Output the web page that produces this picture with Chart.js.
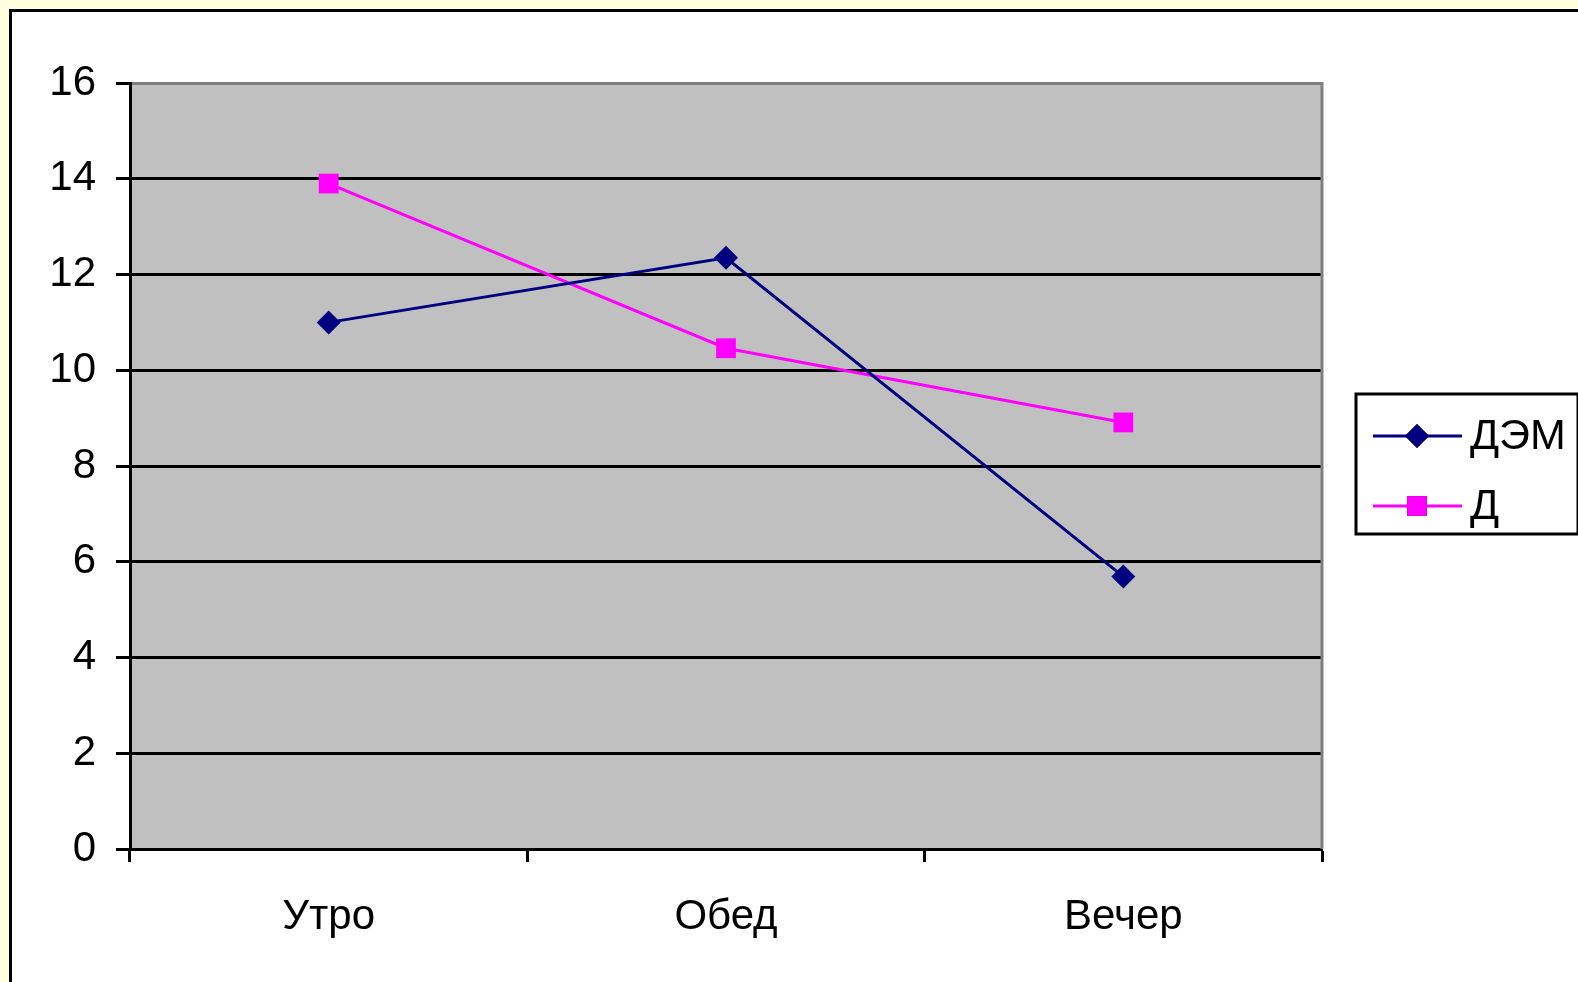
<!DOCTYPE html>
<html>
<head>
<meta charset="utf-8">
<script src="https://cdn.jsdelivr.net/npm/chart.js@4/dist/chart.umd.min.js"></script>
<style>
  html, body { margin: 0; padding: 0; background: #FFFFE0; overflow: hidden; }
  #frame {
    position: absolute; left: 9px; top: 9px;
    width: 1640px; height: 1040px;
    background: #fff; border: 3px solid #000;
  }
  #chart { position: absolute; left: 0; top: 0; }
</style>
</head>
<body>
<div id="frame"></div>
<canvas id="chart" width="1578" height="982"></canvas>
<script>
const categories = ['Утро', 'Обед', 'Вечер'];
const seriesNames = ['ДЭМ', 'Д'];
const demValues = [11.0, 12.35, 5.69];
const dValues = [13.9, 10.46, 8.91];
const yMin = 0;
const yMax = 16;
const yStep = 2;

const seriesColors = ['#000080', '#FF00FF'];
const seriesMarkers = ['rectRot', 'rect'];
const markerRadius = [12, 14];
const fontFamily = '"Liberation Sans", Arial, sans-serif';

const plotBackground = {
  id: 'plotBackground',
  beforeDraw(chart) {
    const { ctx, chartArea: a } = chart;
    ctx.save();
    ctx.fillStyle = '#C0C0C0';
    ctx.fillRect(a.left, a.top, a.right - a.left, a.bottom - a.top);
    ctx.restore();
  },
  beforeDatasetsDraw(chart) {
    const { ctx, chartArea: a } = chart;
    ctx.save();
    ctx.strokeStyle = '#808080';
    ctx.lineWidth = 3;
    ctx.beginPath();
    ctx.moveTo(a.right, a.top - 1);
    ctx.lineTo(a.right, a.bottom);
    ctx.stroke();
    ctx.restore();
  },
};

// legend box like the office chart: line with marker in the middle
const boxLegend = {
  id: 'boxLegend',
  afterDraw(chart) {
    const { ctx } = chart;
    ctx.save();
    ctx.strokeStyle = '#000';
    ctx.lineWidth = 3;
    ctx.strokeRect(1356, 394, 222, 140);
    chart.data.datasets.forEach((ds, i) => {
      const y = 436 + i * 70;
      ctx.strokeStyle = ds.borderColor;
      ctx.lineWidth = 3;
      ctx.beginPath();
      ctx.moveTo(1373, y);
      ctx.lineTo(1462, y);
      ctx.stroke();
      Chart.helpers.drawPoint(ctx, {
        pointStyle: ds.pointStyle,
        radius: ds.pointRadius,
        borderWidth: 0,
        rotation: 0,
      }, 1417, y);
      ctx.fillStyle = ds.backgroundColor;
      ctx.fill();
      ctx.fillStyle = '#000';
      ctx.font = '43px ' + fontFamily;
      ctx.textBaseline = 'middle';
      ctx.textAlign = 'left';
      ctx.fillText(ds.label, 1470, y + 1);
    });
    ctx.restore();
  },
};

new Chart(document.getElementById('chart'), {
  type: 'line',
  data: {
    labels: categories,
    datasets: [demValues, dValues].map((values, i) => ({
      label: seriesNames[i],
      data: values,
      borderColor: seriesColors[i],
      backgroundColor: seriesColors[i],
      borderWidth: 3,
      pointStyle: seriesMarkers[i],
      pointRadius: markerRadius[i],
      pointBorderWidth: 0,
      tension: 0,
    })),
  },
  options: {
    responsive: false,
    animation: false,
    devicePixelRatio: 1,
    layout: { padding: { left: 0, top: 83, right: 256, bottom: 0 } },
    plugins: {
      legend: { display: false },
      tooltip: { enabled: false },
    },
    scales: {
      x: {
        offset: true,
        afterFit(scale) { scale.height = 133; },
        grid: {
          offset: true,
          drawOnChartArea: false,
          drawTicks: true,
          tickLength: 13,
          tickColor: '#000',
          tickWidth: 3,
        },
        border: { display: true, color: '#000', width: 3 },
        ticks: {
          color: '#000',
          padding: 30,
          font: { family: fontFamily, size: 42 },
          maxRotation: 0,
        },
      },
      y: {
        min: yMin,
        max: yMax,
        afterFit(scale) { scale.width = 130; },
        grid: {
          color: (c) => (c.tick && c.tick.value === yMax ? '#808080' : '#000'),
          lineWidth: 3,
          tickLength: 14,
          tickColor: '#000',
          tickWidth: 3,
        },
        border: { display: true, color: '#000', width: 3 },
        ticks: {
          stepSize: yStep,
          color: '#000',
          padding: 20,
          font: { family: fontFamily, size: 42 },
        },
      },
    },
  },
  plugins: [plotBackground, boxLegend],
});
</script>
</body>
</html>
